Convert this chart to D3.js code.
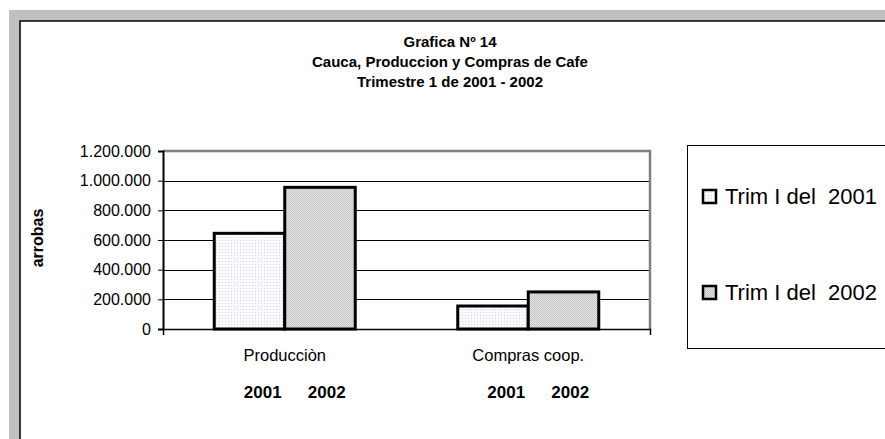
<!DOCTYPE html>
<html>
<head>
<meta charset="utf-8">
<script src="https://cdn.jsdelivr.net/npm/d3@7"></script>
<style>
	body { margin: 0; background: #fff; }
	text { font-family: "Liberation Sans", Arial, sans-serif; }
</style>
</head>
<body>
<svg id="chart" width="885" height="439"></svg>
<script>
// datos de la grafica
var categories = ['Producciòn', 'Compras coop.'];
var series = ['Trim I del  2001', 'Trim I del  2002'];
var values2001 = [645000, 155000];
var values2002 = [955000, 250000];
var yTicks = [0, 200000, 400000, 600000, 800000, 1000000, 1200000];
var yearLabels = ['2001', '2002'];
var titleLines = ['Grafica Nº 14', 'Cauca, Produccion y Compras de Cafe', 'Trimestre 1 de 2001 - 2002'];

var svg = d3.select('#chart');
var defs = svg.append('defs');

// tramas de relleno
var p1 = defs.append('pattern').attr('id', 'fill2001')
	.attr('width', 3).attr('height', 3).attr('patternUnits', 'userSpaceOnUse');
p1.append('rect').attr('width', 3).attr('height', 3).attr('fill', '#fbfbff');
p1.append('rect').attr('width', 1).attr('height', 1).attr('fill', '#d4d4ee');

var p2 = defs.append('pattern').attr('id', 'fill2002')
	.attr('width', 2).attr('height', 2).attr('patternUnits', 'userSpaceOnUse');
p2.append('rect').attr('width', 2).attr('height', 2).attr('fill', '#e0e0e0');
p2.append('rect').attr('width', 1).attr('height', 1).attr('fill', '#c4c4c4');
p2.append('rect').attr('x', 1).attr('y', 1).attr('width', 1).attr('height', 1).attr('fill', '#cccccc');

// fondo gris y area blanca
svg.append('rect').attr('x', 9).attr('y', 10).attr('width', 876).attr('height', 429).attr('fill', '#c0c0c0');
svg.append('rect').attr('x', 20).attr('y', 21).attr('width', 870).attr('height', 430)
	.attr('fill', '#fff').attr('stroke', '#000').attr('stroke-width', 1.5);

// titulo
svg.append('g').selectAll('text').data(titleLines).join('text')
	.attr('x', 450).attr('y', function (d, i) { return 47 + i * 20; })
	.attr('text-anchor', 'middle').attr('font-weight', 'bold').attr('font-size', 15)
	.text(function (d) { return d; });

var margin = { top: 151, left: 163, right: 650, bottom: 329 };

var x = d3.scaleBand().domain(categories).range([margin.left, margin.right]).padding(0);
var y = d3.scaleLinear().domain([0, 1200000]).range([margin.bottom, margin.top]);

var plot = svg.append('g');

// lineas de division
plot.selectAll('line.grid').data(yTicks.slice(1, -1)).join('line')
	.attr('class', 'grid')
	.attr('x1', margin.left).attr('x2', margin.right)
	.attr('y1', function (d) { return Math.round(y(d)) + 0.5; })
	.attr('y2', function (d) { return Math.round(y(d)) + 0.5; })
	.attr('stroke', '#000').attr('stroke-width', 1);

// marco gris superior y derecho
plot.append('path')
	.attr('d', 'M' + margin.left + ',' + y(1200000) + 'H' + margin.right + 'V' + y(0))
	.attr('fill', 'none').attr('stroke', '#808080').attr('stroke-width', 2.5);

// barras
var groupWidth = 141;
var barW = groupWidth / 2;
var bars = [];
categories.forEach(function (c, i) {
	bars.push({ cat: c, v: values2001[i], k: 0 });
	bars.push({ cat: c, v: values2002[i], k: 1 });
});
plot.selectAll('rect.bar').data(bars).join('rect')
	.attr('class', 'bar')
	.attr('x', function (d) { return x(d.cat) + x.bandwidth() / 2 - groupWidth / 2 + d.k * barW; })
	.attr('y', function (d) { return y(d.v); })
	.attr('width', barW)
	.attr('height', function (d) { return y(0) - y(d.v); })
	.attr('fill', function (d) { return d.k ? 'url(#fill2002)' : 'url(#fill2001)'; })
	.attr('stroke', '#000').attr('stroke-width', 3);

// eje y
var yAxis = d3.axisLeft(y).tickValues(yTicks).tickSize(5).tickPadding(7)
	.tickFormat(function (d) { return d3.format(',')(d).replace(/,/g, '.'); });
var gy = svg.append('g').attr('transform', 'translate(' + margin.left + ',0)').call(yAxis);
gy.select('.domain').attr('stroke', '#000').attr('stroke-width', 2);
gy.selectAll('.tick line').attr('stroke', '#000');
gy.selectAll('.tick text').attr('font-size', 16).attr('fill', '#000')
	.style('font-family', '"Liberation Sans", Arial, sans-serif');

// eje x
var xAxis = d3.axisBottom(x).tickSizeInner(0).tickSizeOuter(6).tickPadding(20);
var gx = svg.append('g').attr('transform', 'translate(0,' + margin.bottom + ')').call(xAxis);
gx.select('.domain').attr('stroke', '#000').attr('stroke-width', 1.5);
gx.selectAll('.tick text').attr('font-size', 16.5).attr('fill', '#000')
	.style('font-family', '"Liberation Sans", Arial, sans-serif');

// etiquetas de años bajo cada grupo
var yearOffsets = [-22, 42];
categories.forEach(function (c) {
	svg.append('g').selectAll('text').data(yearLabels).join('text')
		.attr('x', function (d, i) { return x(c) + x.bandwidth() / 2 + yearOffsets[i]; })
		.attr('y', 398)
		.attr('text-anchor', 'middle').attr('font-weight', 'bold').attr('font-size', 17)
		.text(function (d) { return d; });
});

// titulo eje y
svg.append('text')
	.attr('transform', 'translate(43,238) rotate(-90)')
	.attr('text-anchor', 'middle').attr('font-weight', 'bold').attr('font-size', 16)
	.text('arrobas');

// leyenda
svg.append('rect').attr('x', 687.5).attr('y', 145.5).attr('width', 220).attr('height', 203)
	.attr('fill', '#fff').attr('stroke', '#000').attr('stroke-width', 1);
var leg = svg.append('g').selectAll('g').data(series).join('g')
	.attr('transform', function (d, i) { return 'translate(702,' + (189 + i * 96) + ')'; });
leg.append('rect').attr('x', 1).attr('y', 1).attr('width', 13).attr('height', 13)
	.attr('fill', function (d, i) { return i ? 'url(#fill2002)' : 'url(#fill2001)'; })
	.attr('stroke', '#000').attr('stroke-width', 2.5);
leg.append('text').attr('x', 23).attr('y', 15).attr('font-size', 22)
	.attr('xml:space', 'preserve')
	.text(function (d) { return d; });
</script>
</body>
</html>
